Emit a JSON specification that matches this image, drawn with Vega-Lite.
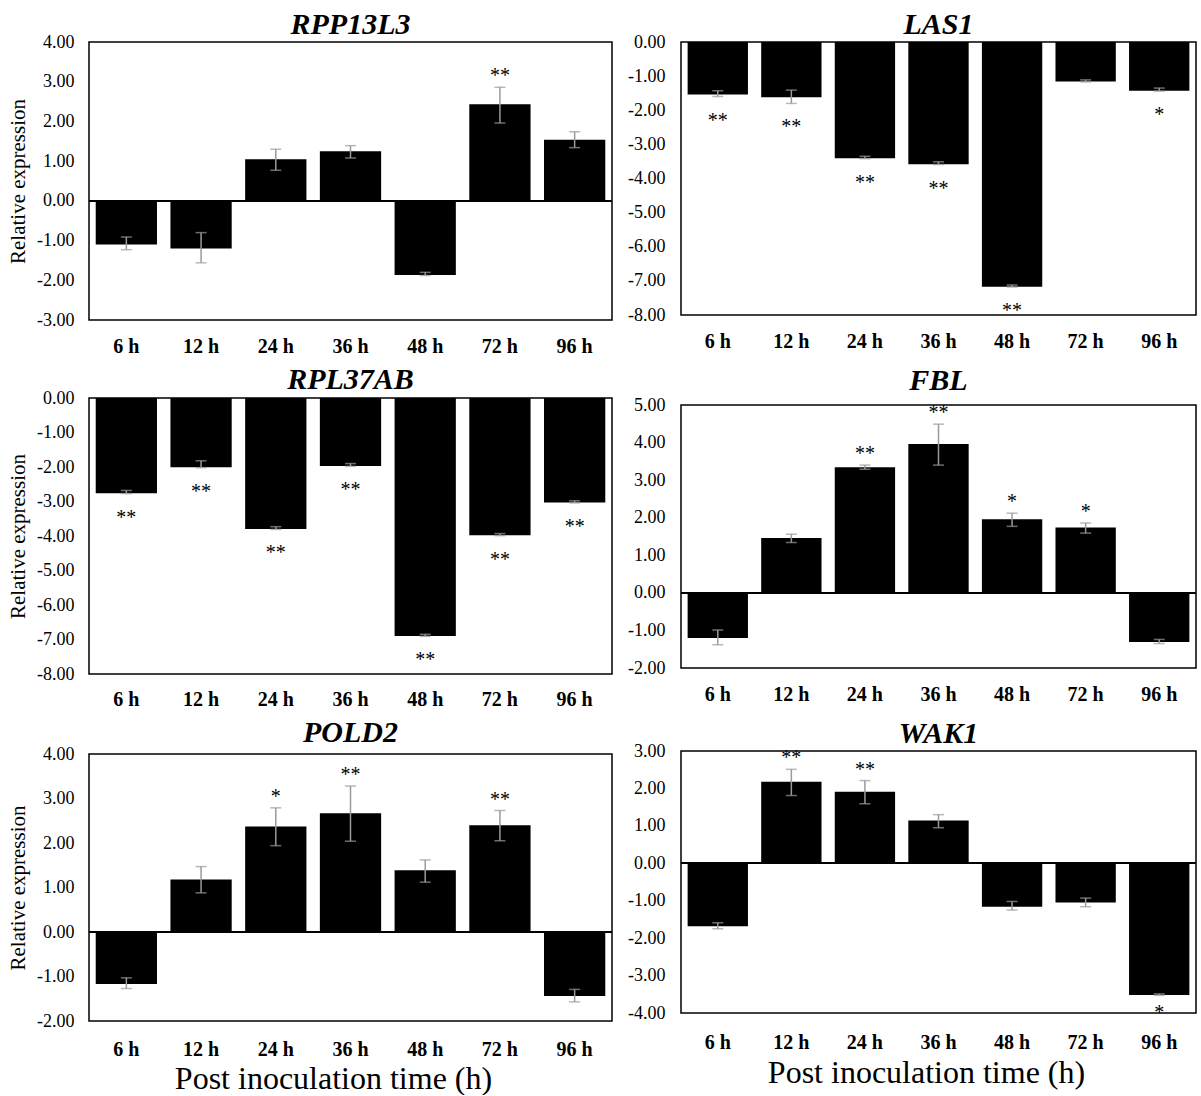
{
  "$schema": "https://vega.github.io/schema/vega-lite/v6.json",
  "padding": {"left": 6, "top": 9, "right": 0, "bottom": 0},
  "background": "white",
  "datasets": {
    "expr": [
      {"gene": "RPP13L3", "time": "6 h", "value": -1.10, "lo": -1.23, "hi": -0.91, "sig": ""},
      {"gene": "RPP13L3", "time": "12 h", "value": -1.20, "lo": -1.56, "hi": -0.80, "sig": ""},
      {"gene": "RPP13L3", "time": "24 h", "value": 1.05, "lo": 0.77, "hi": 1.30, "sig": ""},
      {"gene": "RPP13L3", "time": "36 h", "value": 1.25, "lo": 1.08, "hi": 1.39, "sig": ""},
      {"gene": "RPP13L3", "time": "48 h", "value": -1.87, "lo": -1.88, "hi": -1.80, "sig": ""},
      {"gene": "RPP13L3", "time": "72 h", "value": 2.43, "lo": 1.96, "hi": 2.86, "sig": "**"},
      {"gene": "RPP13L3", "time": "96 h", "value": 1.54, "lo": 1.34, "hi": 1.74, "sig": ""},
      {"gene": "LAS1", "time": "6 h", "value": -1.54, "lo": -1.60, "hi": -1.43, "sig": "**"},
      {"gene": "LAS1", "time": "12 h", "value": -1.62, "lo": -1.80, "hi": -1.41, "sig": "**"},
      {"gene": "LAS1", "time": "24 h", "value": -3.41, "lo": -3.42, "hi": -3.35, "sig": "**"},
      {"gene": "LAS1", "time": "36 h", "value": -3.58, "lo": -3.59, "hi": -3.51, "sig": "**"},
      {"gene": "LAS1", "time": "48 h", "value": -7.17, "lo": -7.18, "hi": -7.12, "sig": "**"},
      {"gene": "LAS1", "time": "72 h", "value": -1.16, "lo": -1.17, "hi": -1.11, "sig": ""},
      {"gene": "LAS1", "time": "96 h", "value": -1.43, "lo": -1.44, "hi": -1.35, "sig": "*"},
      {"gene": "RPL37AB", "time": "6 h", "value": -2.76, "lo": -2.77, "hi": -2.68, "sig": "**"},
      {"gene": "RPL37AB", "time": "12 h", "value": -2.01, "lo": -2.02, "hi": -1.82, "sig": "**"},
      {"gene": "RPL37AB", "time": "24 h", "value": -3.80, "lo": -3.81, "hi": -3.73, "sig": "**"},
      {"gene": "RPL37AB", "time": "36 h", "value": -1.97, "lo": -1.98, "hi": -1.90, "sig": "**"},
      {"gene": "RPL37AB", "time": "48 h", "value": -6.90, "lo": -6.91, "hi": -6.85, "sig": "**"},
      {"gene": "RPL37AB", "time": "72 h", "value": -3.98, "lo": -3.99, "hi": -3.93, "sig": "**"},
      {"gene": "RPL37AB", "time": "96 h", "value": -3.03, "lo": -3.04, "hi": -2.98, "sig": "**"},
      {"gene": "FBL", "time": "6 h", "value": -1.20, "lo": -1.38, "hi": -0.99, "sig": ""},
      {"gene": "FBL", "time": "12 h", "value": 1.46, "lo": 1.34, "hi": 1.56, "sig": ""},
      {"gene": "FBL", "time": "24 h", "value": 3.34, "lo": 3.29, "hi": 3.40, "sig": "**"},
      {"gene": "FBL", "time": "36 h", "value": 3.96, "lo": 3.40, "hi": 4.49, "sig": "**"},
      {"gene": "FBL", "time": "48 h", "value": 1.96, "lo": 1.77, "hi": 2.12, "sig": "*"},
      {"gene": "FBL", "time": "72 h", "value": 1.74, "lo": 1.59, "hi": 1.86, "sig": "*"},
      {"gene": "FBL", "time": "96 h", "value": -1.31, "lo": -1.35, "hi": -1.24, "sig": ""},
      {"gene": "POLD2", "time": "6 h", "value": -1.17, "lo": -1.27, "hi": -1.03, "sig": ""},
      {"gene": "POLD2", "time": "12 h", "value": 1.18, "lo": 0.88, "hi": 1.47, "sig": ""},
      {"gene": "POLD2", "time": "24 h", "value": 2.37, "lo": 1.94, "hi": 2.79, "sig": "*"},
      {"gene": "POLD2", "time": "36 h", "value": 2.67, "lo": 2.04, "hi": 3.28, "sig": "**"},
      {"gene": "POLD2", "time": "48 h", "value": 1.39, "lo": 1.12, "hi": 1.62, "sig": ""},
      {"gene": "POLD2", "time": "72 h", "value": 2.40, "lo": 2.05, "hi": 2.73, "sig": "**"},
      {"gene": "POLD2", "time": "96 h", "value": -1.44, "lo": -1.57, "hi": -1.29, "sig": ""},
      {"gene": "WAK1", "time": "6 h", "value": -1.68, "lo": -1.75, "hi": -1.59, "sig": ""},
      {"gene": "WAK1", "time": "12 h", "value": 2.18, "lo": 1.81, "hi": 2.51, "sig": "**"},
      {"gene": "WAK1", "time": "24 h", "value": 1.91, "lo": 1.59, "hi": 2.21, "sig": "**"},
      {"gene": "WAK1", "time": "36 h", "value": 1.14, "lo": 0.95, "hi": 1.30, "sig": ""},
      {"gene": "WAK1", "time": "48 h", "value": -1.16, "lo": -1.25, "hi": -1.02, "sig": ""},
      {"gene": "WAK1", "time": "72 h", "value": -1.05, "lo": -1.16, "hi": -0.93, "sig": ""},
      {"gene": "WAK1", "time": "96 h", "value": -3.52, "lo": -3.53, "hi": -3.49, "sig": "*"}
    ]
  },
  "data": {"name": "expr"},
  "spacing": 12,
  "hconcat": [
    {
      "spacing": 7,
      "vconcat": [
        {
          "width": 523, "height": 278,
          "title": {"text": "RPP13L3", "offset": -7},
          "transform": [{"filter": "datum.gene === 'RPP13L3'"}],
          "resolve": {"axis": {"x": "independent", "y": "independent"}},
          "layer": [
            {"mark": {"type": "bar", "color": "black"},
             "encoding": {
               "x": {"field": "time", "type": "ordinal", "sort": ["6 h","12 h","24 h","36 h","48 h","72 h","96 h"], "scale": {"paddingInner": 0.18, "paddingOuter": 0.09}, "axis": {"title": null, "labelPadding": 32}},
               "y": {"field": "value", "type": "quantitative", "scale": {"domain": [-3, 4], "nice": false, "zero": false}, "axis": {"values": [-3,-2,-1,0,1,2,3,4], "labelOverlap": false, "format": ".2f", "title": "Relative expression", "labelPadding": 15, "minExtent": 52, "maxExtent": 52, "titlePadding": 9}}}},
            {"mark": {"type": "rule", "color": "black", "strokeWidth": 1.5},
             "encoding": {"y": {"datum": 0, "type": "quantitative", "scale": {"domain": [-3, 4], "nice": false, "zero": false}, "axis": null}}},
            {"mark": {"type": "rule", "color": "#9a9a9a", "strokeWidth": 1.5},
             "encoding": {
               "x": {"field": "time", "type": "ordinal", "sort": ["6 h","12 h","24 h","36 h","48 h","72 h","96 h"], "axis": null},
               "y": {"field": "lo", "type": "quantitative", "scale": {"domain": [-3, 4], "nice": false, "zero": false}, "axis": null},
               "y2": {"field": "hi"}}},
            {"mark": {"type": "tick", "color": "#9a9a9a", "thickness": 1.5, "size": 11},
             "encoding": {
               "x": {"field": "time", "type": "ordinal", "sort": ["6 h","12 h","24 h","36 h","48 h","72 h","96 h"], "axis": null},
               "y": {"field": "lo", "type": "quantitative", "scale": {"domain": [-3, 4], "nice": false, "zero": false}, "axis": null}}},
            {"mark": {"type": "tick", "color": "#9a9a9a", "thickness": 1.5, "size": 11},
             "encoding": {
               "x": {"field": "time", "type": "ordinal", "sort": ["6 h","12 h","24 h","36 h","48 h","72 h","96 h"], "axis": null},
               "y": {"field": "hi", "type": "quantitative", "scale": {"domain": [-3, 4], "nice": false, "zero": false}, "axis": null}}},
            {"transform": [{"filter": "datum.sig !== '' && datum.value > 0"}],
             "mark": {"type": "text", "baseline": "alphabetic", "dy": -5, "fontSize": 20, "color": "black"},
             "encoding": {
               "x": {"field": "time", "type": "ordinal", "sort": ["6 h","12 h","24 h","36 h","48 h","72 h","96 h"], "axis": null},
               "y": {"field": "hi", "type": "quantitative", "scale": {"domain": [-3, 4], "nice": false, "zero": false}, "axis": null},
               "text": {"field": "sig"}}},
            {"transform": [{"filter": "datum.sig !== '' && datum.value < 0"}],
             "mark": {"type": "text", "baseline": "alphabetic", "dy": 30, "fontSize": 20, "color": "black"},
             "encoding": {
               "x": {"field": "time", "type": "ordinal", "sort": ["6 h","12 h","24 h","36 h","48 h","72 h","96 h"], "axis": null},
               "y": {"field": "lo", "type": "quantitative", "scale": {"domain": [-3, 4], "nice": false, "zero": false}, "axis": null},
               "text": {"field": "sig"}}}
          ]
        },
        {
          "width": 523, "height": 276,
          "title": {"text": "RPL37AB", "offset": -6},
          "transform": [{"filter": "datum.gene === 'RPL37AB'"}],
          "resolve": {"axis": {"x": "independent", "y": "independent"}},
          "layer": [
            {"mark": {"type": "bar", "color": "black"},
             "encoding": {
               "x": {"field": "time", "type": "ordinal", "sort": ["6 h","12 h","24 h","36 h","48 h","72 h","96 h"], "scale": {"paddingInner": 0.18, "paddingOuter": 0.09}, "axis": {"title": null, "labelPadding": 31}},
               "y": {"field": "value", "type": "quantitative", "scale": {"domain": [-8, 0], "nice": false, "zero": false}, "axis": {"values": [-8,-7,-6,-5,-4,-3,-2,-1,0], "labelOverlap": false, "format": ".2f", "title": "Relative expression", "labelPadding": 15, "minExtent": 52, "maxExtent": 52, "titlePadding": 9}}}},
            {"mark": {"type": "rule", "color": "#9a9a9a", "strokeWidth": 1.5},
             "encoding": {
               "x": {"field": "time", "type": "ordinal", "sort": ["6 h","12 h","24 h","36 h","48 h","72 h","96 h"], "axis": null},
               "y": {"field": "lo", "type": "quantitative", "scale": {"domain": [-8, 0], "nice": false, "zero": false}, "axis": null},
               "y2": {"field": "hi"}}},
            {"mark": {"type": "tick", "color": "#9a9a9a", "thickness": 1.5, "size": 11},
             "encoding": {
               "x": {"field": "time", "type": "ordinal", "sort": ["6 h","12 h","24 h","36 h","48 h","72 h","96 h"], "axis": null},
               "y": {"field": "lo", "type": "quantitative", "scale": {"domain": [-8, 0], "nice": false, "zero": false}, "axis": null}}},
            {"mark": {"type": "tick", "color": "#9a9a9a", "thickness": 1.5, "size": 11},
             "encoding": {
               "x": {"field": "time", "type": "ordinal", "sort": ["6 h","12 h","24 h","36 h","48 h","72 h","96 h"], "axis": null},
               "y": {"field": "hi", "type": "quantitative", "scale": {"domain": [-8, 0], "nice": false, "zero": false}, "axis": null}}},
            {"transform": [{"filter": "datum.sig !== '' && datum.value < 0"}],
             "mark": {"type": "text", "baseline": "alphabetic", "dy": 30, "fontSize": 20, "color": "black"},
             "encoding": {
               "x": {"field": "time", "type": "ordinal", "sort": ["6 h","12 h","24 h","36 h","48 h","72 h","96 h"], "axis": null},
               "y": {"field": "lo", "type": "quantitative", "scale": {"domain": [-8, 0], "nice": false, "zero": false}, "axis": null},
               "text": {"field": "sig"}}}
          ]
        },
        {
          "width": 523, "height": 267,
          "title": {"text": "POLD2", "offset": -3},
          "transform": [{"filter": "datum.gene === 'POLD2'"}],
          "resolve": {"axis": {"x": "independent", "y": "independent"}},
          "layer": [
            {"mark": {"type": "bar", "color": "black"},
             "encoding": {
               "x": {"field": "time", "type": "ordinal", "sort": ["6 h","12 h","24 h","36 h","48 h","72 h","96 h"], "scale": {"paddingInner": 0.18, "paddingOuter": 0.09}, "axis": {"title": "Post inoculation time (h)", "labelPadding": 34, "titleFontSize": 32, "titleFontWeight": "normal", "titleBaseline": "alphabetic", "titleY": 67, "titleX": 244, "titleAlign": "center"}},
               "y": {"field": "value", "type": "quantitative", "scale": {"domain": [-2, 4], "nice": false, "zero": false}, "axis": {"values": [-2,-1,0,1,2,3,4], "labelOverlap": false, "format": ".2f", "title": "Relative expression", "labelPadding": 15, "minExtent": 52, "maxExtent": 52, "titlePadding": 9}}}},
            {"mark": {"type": "rule", "color": "black", "strokeWidth": 1.5},
             "encoding": {"y": {"datum": 0, "type": "quantitative", "scale": {"domain": [-2, 4], "nice": false, "zero": false}, "axis": null}}},
            {"mark": {"type": "rule", "color": "#9a9a9a", "strokeWidth": 1.5},
             "encoding": {
               "x": {"field": "time", "type": "ordinal", "sort": ["6 h","12 h","24 h","36 h","48 h","72 h","96 h"], "axis": null},
               "y": {"field": "lo", "type": "quantitative", "scale": {"domain": [-2, 4], "nice": false, "zero": false}, "axis": null},
               "y2": {"field": "hi"}}},
            {"mark": {"type": "tick", "color": "#9a9a9a", "thickness": 1.5, "size": 11},
             "encoding": {
               "x": {"field": "time", "type": "ordinal", "sort": ["6 h","12 h","24 h","36 h","48 h","72 h","96 h"], "axis": null},
               "y": {"field": "lo", "type": "quantitative", "scale": {"domain": [-2, 4], "nice": false, "zero": false}, "axis": null}}},
            {"mark": {"type": "tick", "color": "#9a9a9a", "thickness": 1.5, "size": 11},
             "encoding": {
               "x": {"field": "time", "type": "ordinal", "sort": ["6 h","12 h","24 h","36 h","48 h","72 h","96 h"], "axis": null},
               "y": {"field": "hi", "type": "quantitative", "scale": {"domain": [-2, 4], "nice": false, "zero": false}, "axis": null}}},
            {"transform": [{"filter": "datum.sig !== '' && datum.value > 0"}],
             "mark": {"type": "text", "baseline": "alphabetic", "dy": -5, "fontSize": 20, "color": "black"},
             "encoding": {
               "x": {"field": "time", "type": "ordinal", "sort": ["6 h","12 h","24 h","36 h","48 h","72 h","96 h"], "axis": null},
               "y": {"field": "hi", "type": "quantitative", "scale": {"domain": [-2, 4], "nice": false, "zero": false}, "axis": null},
               "text": {"field": "sig"}}}
          ]
        }
      ]
    },
    {
      "spacing": 13,
      "vconcat": [
        {
          "width": 515, "height": 273,
          "title": {"text": "LAS1", "offset": -7},
          "transform": [{"filter": "datum.gene === 'LAS1'"}],
          "resolve": {"axis": {"x": "independent", "y": "independent"}},
          "layer": [
            {"mark": {"type": "bar", "color": "black"},
             "encoding": {
               "x": {"field": "time", "type": "ordinal", "sort": ["6 h","12 h","24 h","36 h","48 h","72 h","96 h"], "scale": {"paddingInner": 0.18, "paddingOuter": 0.09}, "axis": {"title": null, "labelPadding": 32}},
               "y": {"field": "value", "type": "quantitative", "scale": {"domain": [-8, 0], "nice": false, "zero": false}, "axis": {"values": [-8,-7,-6,-5,-4,-3,-2,-1,0], "labelOverlap": false, "format": ".2f", "title": null, "labelPadding": 16, "minExtent": 54, "maxExtent": 54}}}},
            {"mark": {"type": "rule", "color": "#9a9a9a", "strokeWidth": 1.5},
             "encoding": {
               "x": {"field": "time", "type": "ordinal", "sort": ["6 h","12 h","24 h","36 h","48 h","72 h","96 h"], "axis": null},
               "y": {"field": "lo", "type": "quantitative", "scale": {"domain": [-8, 0], "nice": false, "zero": false}, "axis": null},
               "y2": {"field": "hi"}}},
            {"mark": {"type": "tick", "color": "#9a9a9a", "thickness": 1.5, "size": 11},
             "encoding": {
               "x": {"field": "time", "type": "ordinal", "sort": ["6 h","12 h","24 h","36 h","48 h","72 h","96 h"], "axis": null},
               "y": {"field": "lo", "type": "quantitative", "scale": {"domain": [-8, 0], "nice": false, "zero": false}, "axis": null}}},
            {"mark": {"type": "tick", "color": "#9a9a9a", "thickness": 1.5, "size": 11},
             "encoding": {
               "x": {"field": "time", "type": "ordinal", "sort": ["6 h","12 h","24 h","36 h","48 h","72 h","96 h"], "axis": null},
               "y": {"field": "hi", "type": "quantitative", "scale": {"domain": [-8, 0], "nice": false, "zero": false}, "axis": null}}},
            {"transform": [{"filter": "datum.sig !== '' && datum.value < 0"}],
             "mark": {"type": "text", "baseline": "alphabetic", "dy": 30, "fontSize": 20, "color": "black"},
             "encoding": {
               "x": {"field": "time", "type": "ordinal", "sort": ["6 h","12 h","24 h","36 h","48 h","72 h","96 h"], "axis": null},
               "y": {"field": "lo", "type": "quantitative", "scale": {"domain": [-8, 0], "nice": false, "zero": false}, "axis": null},
               "text": {"field": "sig"}}}
          ]
        },
        {
          "width": 515, "height": 263,
          "title": {"text": "FBL", "offset": 0},
          "transform": [{"filter": "datum.gene === 'FBL'"}],
          "resolve": {"axis": {"x": "independent", "y": "independent"}},
          "layer": [
            {"mark": {"type": "bar", "color": "black"},
             "encoding": {
               "x": {"field": "time", "type": "ordinal", "sort": ["6 h","12 h","24 h","36 h","48 h","72 h","96 h"], "scale": {"paddingInner": 0.18, "paddingOuter": 0.09}, "axis": {"title": null, "labelPadding": 32}},
               "y": {"field": "value", "type": "quantitative", "scale": {"domain": [-2, 5], "nice": false, "zero": false}, "axis": {"values": [-2,-1,0,1,2,3,4,5], "labelOverlap": false, "format": ".2f", "title": null, "labelPadding": 16, "minExtent": 54, "maxExtent": 54}}}},
            {"mark": {"type": "rule", "color": "black", "strokeWidth": 1.5},
             "encoding": {"y": {"datum": 0, "type": "quantitative", "scale": {"domain": [-2, 5], "nice": false, "zero": false}, "axis": null}}},
            {"mark": {"type": "rule", "color": "#9a9a9a", "strokeWidth": 1.5},
             "encoding": {
               "x": {"field": "time", "type": "ordinal", "sort": ["6 h","12 h","24 h","36 h","48 h","72 h","96 h"], "axis": null},
               "y": {"field": "lo", "type": "quantitative", "scale": {"domain": [-2, 5], "nice": false, "zero": false}, "axis": null},
               "y2": {"field": "hi"}}},
            {"mark": {"type": "tick", "color": "#9a9a9a", "thickness": 1.5, "size": 11},
             "encoding": {
               "x": {"field": "time", "type": "ordinal", "sort": ["6 h","12 h","24 h","36 h","48 h","72 h","96 h"], "axis": null},
               "y": {"field": "lo", "type": "quantitative", "scale": {"domain": [-2, 5], "nice": false, "zero": false}, "axis": null}}},
            {"mark": {"type": "tick", "color": "#9a9a9a", "thickness": 1.5, "size": 11},
             "encoding": {
               "x": {"field": "time", "type": "ordinal", "sort": ["6 h","12 h","24 h","36 h","48 h","72 h","96 h"], "axis": null},
               "y": {"field": "hi", "type": "quantitative", "scale": {"domain": [-2, 5], "nice": false, "zero": false}, "axis": null}}},
            {"transform": [{"filter": "datum.sig !== '' && datum.value > 0"}],
             "mark": {"type": "text", "baseline": "alphabetic", "dy": -5, "fontSize": 20, "color": "black"},
             "encoding": {
               "x": {"field": "time", "type": "ordinal", "sort": ["6 h","12 h","24 h","36 h","48 h","72 h","96 h"], "axis": null},
               "y": {"field": "hi", "type": "quantitative", "scale": {"domain": [-2, 5], "nice": false, "zero": false}, "axis": null},
               "text": {"field": "sig"}}}
          ]
        },
        {
          "width": 515, "height": 262,
          "title": {"text": "WAK1", "offset": -7},
          "transform": [{"filter": "datum.gene === 'WAK1'"}],
          "resolve": {"axis": {"x": "independent", "y": "independent"}},
          "layer": [
            {"mark": {"type": "bar", "color": "black"},
             "encoding": {
               "x": {"field": "time", "type": "ordinal", "sort": ["6 h","12 h","24 h","36 h","48 h","72 h","96 h"], "scale": {"paddingInner": 0.18, "paddingOuter": 0.09}, "axis": {"title": "Post inoculation time (h)", "labelPadding": 35, "titleFontSize": 32, "titleFontWeight": "normal", "titleBaseline": "alphabetic", "titleY": 69, "titleX": 245, "titleAlign": "center"}},
               "y": {"field": "value", "type": "quantitative", "scale": {"domain": [-4, 3], "nice": false, "zero": false}, "axis": {"values": [-4,-3,-2,-1,0,1,2,3], "labelOverlap": false, "format": ".2f", "title": null, "labelPadding": 16, "minExtent": 54, "maxExtent": 54}}}},
            {"mark": {"type": "rule", "color": "black", "strokeWidth": 1.5},
             "encoding": {"y": {"datum": 0, "type": "quantitative", "scale": {"domain": [-4, 3], "nice": false, "zero": false}, "axis": null}}},
            {"mark": {"type": "rule", "color": "#9a9a9a", "strokeWidth": 1.5},
             "encoding": {
               "x": {"field": "time", "type": "ordinal", "sort": ["6 h","12 h","24 h","36 h","48 h","72 h","96 h"], "axis": null},
               "y": {"field": "lo", "type": "quantitative", "scale": {"domain": [-4, 3], "nice": false, "zero": false}, "axis": null},
               "y2": {"field": "hi"}}},
            {"mark": {"type": "tick", "color": "#9a9a9a", "thickness": 1.5, "size": 11},
             "encoding": {
               "x": {"field": "time", "type": "ordinal", "sort": ["6 h","12 h","24 h","36 h","48 h","72 h","96 h"], "axis": null},
               "y": {"field": "lo", "type": "quantitative", "scale": {"domain": [-4, 3], "nice": false, "zero": false}, "axis": null}}},
            {"mark": {"type": "tick", "color": "#9a9a9a", "thickness": 1.5, "size": 11},
             "encoding": {
               "x": {"field": "time", "type": "ordinal", "sort": ["6 h","12 h","24 h","36 h","48 h","72 h","96 h"], "axis": null},
               "y": {"field": "hi", "type": "quantitative", "scale": {"domain": [-4, 3], "nice": false, "zero": false}, "axis": null}}},
            {"transform": [{"filter": "datum.sig !== '' && datum.value > 0"}],
             "mark": {"type": "text", "baseline": "alphabetic", "dy": -5, "fontSize": 20, "color": "black"},
             "encoding": {
               "x": {"field": "time", "type": "ordinal", "sort": ["6 h","12 h","24 h","36 h","48 h","72 h","96 h"], "axis": null},
               "y": {"field": "hi", "type": "quantitative", "scale": {"domain": [-4, 3], "nice": false, "zero": false}, "axis": null},
               "text": {"field": "sig"}}},
            {"transform": [{"filter": "datum.sig !== '' && datum.value < 0"}],
             "mark": {"type": "text", "baseline": "alphabetic", "dy": 24, "fontSize": 20, "color": "black"},
             "encoding": {
               "x": {"field": "time", "type": "ordinal", "sort": ["6 h","12 h","24 h","36 h","48 h","72 h","96 h"], "axis": null},
               "y": {"field": "lo", "type": "quantitative", "scale": {"domain": [-4, 3], "nice": false, "zero": false}, "axis": null},
               "text": {"field": "sig"}}}
          ]
        }
      ]
    }
  ],
  "config": {
    "font": "Liberation Serif",
    "locale": {"number": {"decimal": ".", "thousands": ",", "grouping": [3], "currency": ["", ""], "minus": "-"}},
    "view": {"stroke": "black", "strokeWidth": 1.5},
    "axis": {"domain": false, "ticks": false, "grid": false, "labelOverlap": false, "labelColor": "black", "titleColor": "black", "labelFont": "Liberation Serif", "titleFont": "Liberation Serif"},
    "axisX": {"labelFontSize": 20, "labelFontWeight": "bold", "labelBaseline": "alphabetic", "labelAngle": 0},
    "axisY": {"labelFontSize": 18, "titleFontSize": 21, "titleFontWeight": "normal"},
    "title": {"font": "Liberation Serif", "fontSize": 30, "fontWeight": "bold", "fontStyle": "italic", "baseline": "alphabetic", "anchor": "middle", "frame": "group", "color": "black"}
  }
}
